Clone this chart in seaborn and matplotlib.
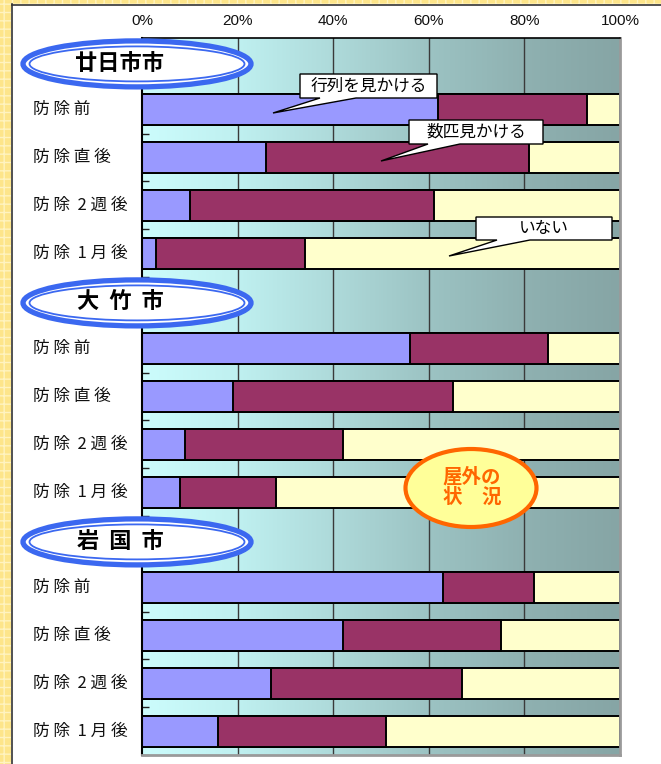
import numpy as np
import pandas as pd
import matplotlib
matplotlib.use("Agg")
import matplotlib.pyplot as plt
import seaborn as sns
from matplotlib.patches import Ellipse, Polygon, Rectangle
from matplotlib.colors import LinearSegmentedColormap

# ---------------- data ----------------
groups = ['廿日市市', '大 竹 市', '岩 国 市']
periods = ['防除前', '防除直後', '防除 2 週後', '防除 1 月後']
series_names = ['行列を見かける', '数匹見かける', 'いない']
gyouretsu = [62, 26, 10, 3, 56, 19, 9, 8, 63, 42, 27, 16]
suhiki = [31, 55, 51, 31, 29, 46, 33, 20, 19, 33, 40, 35]
inai = [7, 19, 39, 66, 15, 35, 58, 72, 18, 25, 33, 49]
xtick_labels = ['0%', '20%', '40%', '60%', '80%', '100%']
badge_text = '屋外の\n状\u3000況'

# ---------------- build table ----------------
rows = []
for g in range(len(groups)):
    for i, p in enumerate(periods):
        k = g * len(periods) + i
        rows.append(dict(pos=g * 5 + 1 + i, group=groups[g], period=p,
                         a=gyouretsu[k], b=suhiki[k], c=inai[k]))
df = pd.DataFrame(rows)
df['ab'] = df['a'] + df['b']
df['abc'] = df['ab'] + df['c']

W, H = 661, 764
fig = plt.figure(figsize=(W / 100, H / 100), dpi=100)
fig.patch.set_facecolor('white')
plt.rcParams['font.family'] = ['Noto Sans CJK JP', 'DejaVu Sans']


def fx(px):
    return px / W


def fy(py):
    return 1 - py / H


ax = fig.add_axes([fx(142), fy(755), fx(620) - fx(142), fy(38) - fy(755)])

# gradient background
cmap = LinearSegmentedColormap.from_list('bg', ['#ccfcfc', '#bff0f0', '#aedada', '#9cc3c3', '#8fb1b1', '#86a5a5'])
grad = np.linspace(0, 1, 256).reshape(1, -1)
ax.imshow(grad, cmap=cmap, extent=[0, 100, 14.5, -0.5], aspect='auto', zorder=0)

common = dict(orient='h', native_scale=True, width=0.65, edgecolor='black',
              linewidth=1.4, errorbar=None, ax=ax, zorder=2)
sns.barplot(data=df, x='abc', y='pos', color='#ffffcc', saturation=1, **common)
sns.barplot(data=df, x='ab', y='pos', color='#993366', saturation=1, **common)
sns.barplot(data=df, x='a', y='pos', color='#9999ff', saturation=1, **common)

ax.set_xlim(0, 100)
ax.set_ylim(14.5, -0.5)
ax.set_xlabel('')
ax.set_ylabel('')
ax.set_xticks([0, 20, 40, 60, 80, 100])
ax.set_xticklabels(xtick_labels, family='Liberation Sans', fontsize=11)
ax.tick_params(axis='x', top=True, labeltop=True, bottom=False, labelbottom=False,
               length=0, pad=7, colors='#111111')
ax.set_yticks(np.arange(0.5, 14.6, 1))
ax.set_yticklabels([])
ax.tick_params(axis='y', direction='in', length=5, width=1, color='#202020')
for x in [20, 40, 60, 80]:
    ax.axvline(x, color='#3a3a3a', lw=1.0, zorder=1)
ax.spines['left'].set_color('black')
ax.spines['left'].set_linewidth(1.5)
ax.spines['top'].set_color('black')
ax.spines['top'].set_linewidth(1.2)
for s in ['right', 'bottom']:
    ax.spines[s].set_color('#9a9a9a')
    ax.spines[s].set_linewidth(2)

# category labels
for _, r in df.iterrows():
    p = r['period']
    if ' ' in p:
        parts = p.split(' ')
        lab = ' '.join(parts[0]) + '  ' + parts[1] + ' ' + ' '.join(parts[2])
    else:
        lab = ' '.join(p)
    ypix = 38 + (r['pos'] + 0.5) * (755 - 38) / 15
    fig.text(fx(33), fy(ypix), lab, ha='left', va='center', fontsize=12, color='#111111')

# group ellipses
for g, name in enumerate(groups):
    cy = 38 + (g * 5 + 0.5) * (755 - 38) / 15 + 2
    e1 = Ellipse((fx(137), fy(cy)), 228 / W, 46 / H, transform=fig.transFigure,
                 facecolor='white', edgecolor='#3b68f0', lw=3.8, zorder=5)
    e2 = Ellipse((fx(137), fy(cy)), 215 / W, 35 / H, transform=fig.transFigure,
                 facecolor='none', edgecolor='#3b68f0', lw=1.3, zorder=5)
    fig.add_artist(e1)
    fig.add_artist(e2)
    fig.text(fx(120), fy(cy), name.replace(' ', '  '), ha='center', va='center', fontsize=16,
             fontweight='bold', color='black', zorder=6)

# callouts
callouts = [
    (series_names[0], (300, 74, 437, 98), (320, 356), (273, 113)),
    (series_names[1], (409, 120, 543, 144), (428, 460), (381, 161)),
    (series_names[2], (476, 217, 612, 240), (497, 530), (449, 256)),
]
for text, (x0, y0, x1, y1), (b1, b2), (tx, ty) in callouts:
    verts = [(x0, y0), (x1, y0), (x1, y1), (b2, y1), (tx, ty), (b1, y1), (x0, y1)]
    poly = Polygon([(fx(a), fy(b)) for a, b in verts], closed=True,
                   transform=fig.transFigure, facecolor='white', edgecolor='black',
                   lw=1.0, zorder=7)
    fig.add_artist(poly)
    fig.text(fx((x0 + x1) / 2), fy((y0 + y1) / 2), text, ha='center', va='center',
             fontsize=12, color='black', zorder=8)

# badge
badge = Ellipse((fx(471), fy(488)), 131 / W, 78 / H, transform=fig.transFigure,
                facecolor='#ffff99', edgecolor='#ff6600', lw=3, zorder=7)
fig.add_artist(badge)
fig.text(fx(472), fy(487), badge_text, ha='center', va='center', fontsize=14,
         fontweight='bold', color='#ff6600', linespacing=1.1, zorder=8)

# page frame
fig.add_artist(Rectangle((0, 0), fx(11), 1, transform=fig.transFigure,
                         facecolor='#fde58a', edgecolor='#fff3c0', hatch='++', lw=0, zorder=9))
fig.add_artist(Rectangle((0, fy(4)), 1, 4 / H, transform=fig.transFigure,
                         facecolor='#fde58a', edgecolor='#fff3c0', hatch='++', lw=0, zorder=9))
fig.add_artist(plt.Line2D([fx(11.5), fx(11.5)], [0, fy(4)], transform=fig.transFigure,
                          color='#333333', lw=1.2, zorder=10))
fig.add_artist(plt.Line2D([fx(11.5), 1], [fy(4.5), fy(4.5)], transform=fig.transFigure,
                          color='#333333', lw=1.2, zorder=10))

fig.savefig('out.png', dpi=100, facecolor='white')
